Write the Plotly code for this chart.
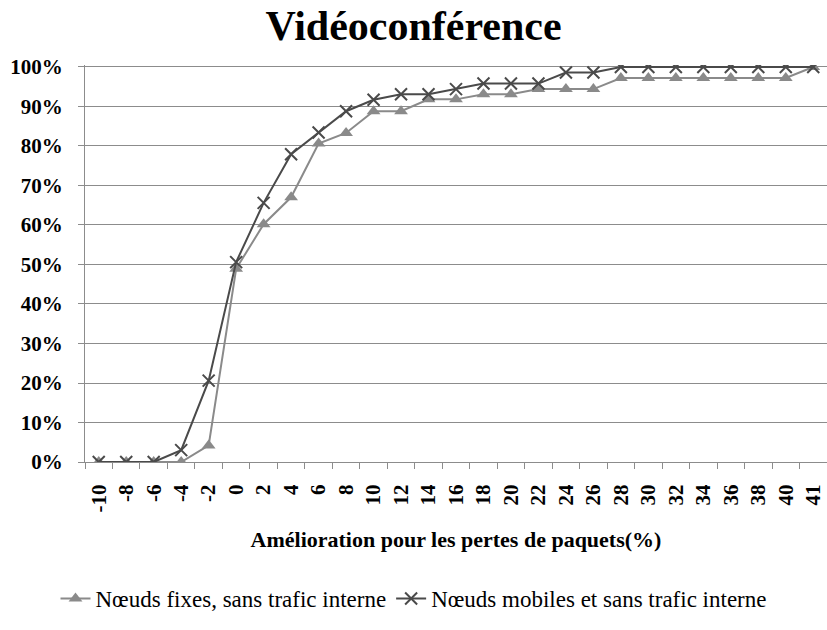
import plotly.graph_objects as go

# Improvement categories (x axis)
categories = ["-10", "-8", "-6", "-4", "-2", "0", "2", "4", "6", "8", "10", "12", "14",
              "16", "18", "20", "22", "24", "26", "28", "30", "32", "34", "36", "38", "40", "41"]

# Cumulative share (%) for each scenario
fixes = [0, 0, 0, 0, 4.2, 48.9, 60.2, 67.0, 80.6, 83.3, 88.8, 88.8, 91.8,
         91.8, 93.1, 93.1, 94.4, 94.4, 94.4, 97.2, 97.2, 97.2, 97.2, 97.2, 97.2, 97.2, 100]
mobiles = [0, 0, 0, 3.0, 20.6, 50.6, 65.6, 77.9, 83.4, 88.8, 91.7, 93.1, 93.1,
           94.4, 95.8, 95.8, 95.8, 98.6, 98.6, 100, 100, 100, 100, 100, 100, 100, 100]

y_ticks = [0, 10, 20, 30, 40, 50, 60, 70, 80, 90, 100]
y_tick_labels = [f"{v}%" for v in y_ticks]

serif = "Liberation Serif, Times New Roman, serif"

fig = go.Figure()
fig.add_trace(go.Scatter(
    x=categories, y=fixes, mode="lines+markers",
    name="Nœuds fixes, sans trafic interne",
    line=dict(color="#8a8a8a", width=2),
    marker=dict(symbol="triangle-up", size=12, color="#8a8a8a"),
))
fig.add_trace(go.Scatter(
    x=categories, y=mobiles, mode="lines+markers",
    name="Nœuds mobiles et sans trafic interne",
    line=dict(color="#4a4a4a", width=2),
    marker=dict(symbol="x-thin", size=12, line=dict(color="#4a4a4a", width=2)),
))

fig.update_layout(
    width=827, height=630,
    margin=dict(l=85, r=0, t=65, b=168),
    paper_bgcolor="white", plot_bgcolor="white",
    title=dict(text="<b>Vidéoconférence</b>", x=0.5, xanchor="center",
               y=0.96, yanchor="middle",
               font=dict(family=serif, size=42, color="black")),
    showlegend=True,
    legend=dict(orientation="h", xref="container", yref="container",
                x=0.5, xanchor="center", y=0.05, yanchor="middle",
                font=dict(family=serif, size=23, color="black"),
                itemwidth=30, tracegroupgap=0),
)

fig.update_xaxes(
    type="category", categoryorder="array", categoryarray=categories,
    range=[-0.5, len(categories) - 0.5], autorange=False,
    tickangle=-90, tickson="boundaries", ticks="outside", ticklen=6,
    tickcolor="#8c8c8c", showline=True, linecolor="#8c8c8c", linewidth=1,
    showgrid=False, zeroline=False, automargin=False,
    tickfont=dict(family=serif, size=21, color="black", weight="bold"),
    ticklabelstandoff=13,
    title=dict(text="<b>Amélioration pour les pertes de paquets(%)</b>",
               font=dict(family=serif, size=22, color="black"), standoff=20),
)
fig.update_yaxes(
    range=[0, 100.5], tickvals=y_ticks, ticktext=y_tick_labels,
    ticks="outside", ticklen=6, tickcolor="#8c8c8c",
    showline=True, linecolor="#8c8c8c", linewidth=1,
    showgrid=True, gridcolor="#8c8c8c", gridwidth=1, zeroline=False,
    automargin=False,
    tickfont=dict(family=serif, size=21, color="black", weight="bold"),
    ticklabelstandoff=11,
)

fig.write_html("out.html")
